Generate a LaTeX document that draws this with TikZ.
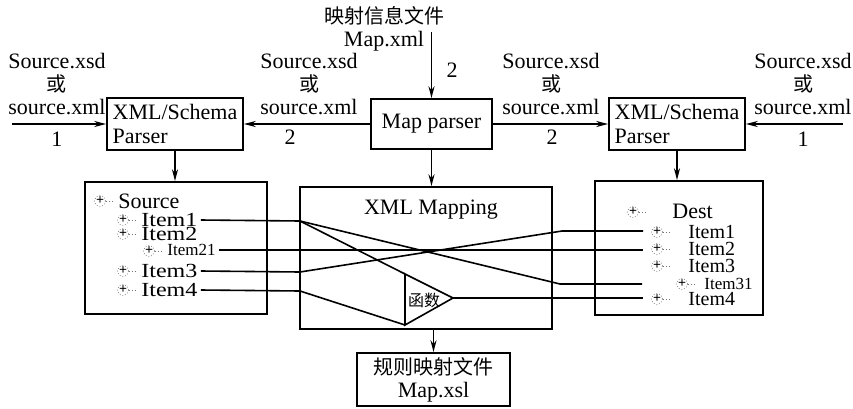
\documentclass[tikz,border=0pt]{standalone}
\usepackage{fontspec}
\setmainfont{Liberation Serif}
\newfontfamily\cjk{Noto Sans CJK SC}
\newfontfamily\widefont[FakeStretch=1.2]{Liberation Serif}
\usetikzlibrary{arrows.meta, positioning, calc}

\newcommand\zhtext[1]{{\cjk\fontsize{10}{11.5}\selectfont #1}}

\tikzset{
  box/.style={draw, line width=0.8pt, inner sep=2pt, font=\fontsize{11}{12}\selectfont},
  flow/.style={line width=0.8pt, -{Stealth[length=6pt,width=3pt]}},
  link/.style={line width=0.8pt},
  arrowtag/.style={inner sep=0pt, align=center, font=\fontsize{11}{11.5}\selectfont},
  entry/.style={inner xsep=1.5pt, inner ysep=0pt, font=\fontsize{11}{12}\selectfont},
  srcentry/.style={entry, font=\widefont\fontsize{10}{10.5}\selectfont},
  subentry/.style={entry, font=\fontsize{8.5}{9}\selectfont},
  destentry/.style={entry, font=\fontsize{10}{11}\selectfont},
  expander/.style={circle, draw=black!45, densely dotted, inner sep=0pt, minimum size=5.5pt,
    font=\fontsize{7}{7}\selectfont\bfseries,
    append after command={(\tikzlastnode.east) edge[densely dotted, draw=black!55, line width=0.4pt] ++(4pt,0)}},
}

\begin{document}
\begin{tikzpicture}[x=0.5pt, y=-0.5pt, line join=miter]
  \useasboundingbox (0,0) rectangle (853,408);

  % parsers and boxes
  \node[box, align=left, minimum width=68pt, minimum height=26pt] (lparser) at (175,124) {XML/Schema\\Parser};
  \node[box, minimum width=60.5pt, minimum height=25pt] (mapparser) at (431.5,124) {Map parser};
  \node[box, align=left, minimum width=68pt, minimum height=26pt] (rparser) at (677,124) {XML/Schema\\Parser};
  \node[box, minimum width=91pt, minimum height=66pt] (source) at (176,248) {};
  \node[box, minimum width=126pt, minimum height=71pt] (mapping) at (426,258) {};
  \node[entry] (maptitle) at (431,210) {XML Mapping};
  \node[box, minimum width=84pt, minimum height=67pt] (dest) at (679,248) {};
  \node[box, align=center, minimum width=76.5pt, minimum height=26.5pt, font=\fontsize{11}{11.5}\selectfont]
    (rules) at (433.5,379.5) {\zhtext{规则映射文件}\\Map.xsl};

  % inputs
  \coordinate (lin) at (12,124);
  \coordinate (rin) at (843,124);
  \coordinate (topin) at (431.5,32);

  \draw[flow] (lin) -- (lparser.west);
  \draw[flow] (mapparser.west) -- (lparser.east);
  \draw[flow] (mapparser.east) -- (rparser.west);
  \draw[flow] (rin) -- (rparser.east);
  \draw[flow] (topin) -- (mapparser.north);
  \draw[flow] (lparser.south) -- (lparser.south |- source.north);
  \draw[flow] (mapparser.south) -- (mapparser.south |- mapping.north);
  \draw[flow] (rparser.south) -- (rparser.south |- dest.north);
  \draw[flow] (rules.north |- mapping.south) -- (rules.north);

  % arrow labels
  \node[arrowtag, anchor=south] (linfo) at (57,115) {Source.xsd\\\zhtext{或}\\source.xml};
  \node[arrowtag] (lnum) at (57,139) {1};
  \node[arrowtag, anchor=south] (mlinfo) at (309,115) {Source.xsd\\\zhtext{或}\\source.xml};
  \node[arrowtag] (mlnum) at (290,137) {2};
  \node[arrowtag, anchor=south] (mrinfo) at (551,115) {Source.xsd\\\zhtext{或}\\source.xml};
  \node[arrowtag] (mrnum) at (552,137) {2};
  \node[arrowtag, anchor=south] (rinfo) at (803,115) {Source.xsd\\\zhtext{或}\\source.xml};
  \node[arrowtag] (rnum) at (803,139) {1};
  \node[arrowtag, anchor=south] (mapinfo) at (384,52) {\zhtext{映射信息文件}\\Map.xml};
  \node[arrowtag] (topnum) at (452,70) {2};

  % source tree
  \node[expander] (srcicon) at (100,201) {+};
  \node[entry, anchor=west] (srcroot) at (115,201) {Source};
  \node[expander] (s1icon) at (123,220) {+};
  \node[srcentry, anchor=west] (s1) at (138,220) {Item1};
  \node[expander] (s2icon) at (123,234) {+};
  \node[srcentry, anchor=west] (s2) at (138,234) {Item2};
  \node[expander] (s21icon) at (149,251) {+};
  \node[subentry, anchor=west] (s21) at (164,250) {Item21};
  \node[expander] (s3icon) at (123,271) {+};
  \node[srcentry, anchor=west] (s3) at (138,271) {Item3};
  \node[expander] (s4icon) at (123,290) {+};
  \node[srcentry, anchor=west] (s4) at (138,290) {Item4};

  % dest tree
  \node[expander] (desticon) at (633,212) {+};
  \node[entry, anchor=west] (destroot) at (669,211) {Dest};
  \node[expander] (d1icon) at (657,232) {+};
  \node[destentry, anchor=west] (d1) at (685,232) {Item1};
  \node[expander] (d2icon) at (657,249) {+};
  \node[destentry, anchor=west] (d2) at (685,249) {Item2};
  \node[expander] (d3icon) at (657,266) {+};
  \node[destentry, anchor=west] (d3) at (685,266) {Item3};
  \node[expander] (d31icon) at (682,284) {+};
  \node[subentry, anchor=west] (d31) at (701,284) {Item31};
  \node[expander] (d4icon) at (657,299) {+};
  \node[destentry, anchor=west] (d4) at (685,299) {Item4};

  % mapping links
  \coordinate (j1) at (300,221);
  \coordinate (j3) at (300,272);
  \coordinate (j4) at (300,291);
  \coordinate (k1) at (562,231);
  \coordinate (k31) at (560,284);
  \coordinate (fa) at (405,274);
  \coordinate (fb) at (405,325);
  \coordinate (fc) at (453,298);
  \coordinate (d1in) at (643,231);
  \coordinate (d2in) at (643,250);
  \coordinate (d31in) at (642,284);
  \coordinate (d4in) at (643,298);

  \draw[link] (s1.east) -- (j1) -- (k31) -- (d31in);
  \draw[link] (j1) -- (fa);
  \draw[link] (s21.east) -- (d2in);
  \draw[link] (s3.east) -- (j3) -- (k1) -- (d1in);
  \draw[link] (s4.east) -- (j4) -- (fb);
  \draw[link] (fa) -- (fc) -- (fb) -- cycle;
  \draw[link] (fc) -- (d4in);
  \node[inner sep=0pt, font=\cjk\fontsize{8}{8}\selectfont] (func) at (424,300) {函数};
\end{tikzpicture}
\end{document}
